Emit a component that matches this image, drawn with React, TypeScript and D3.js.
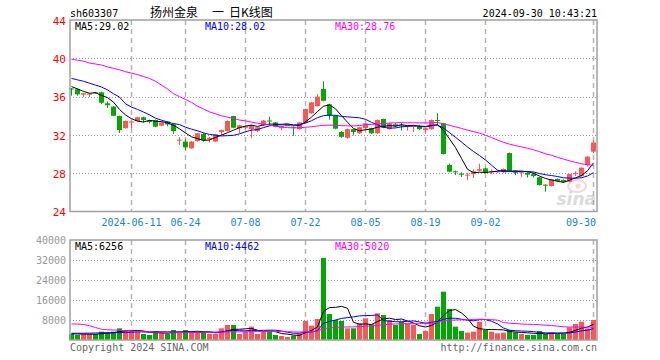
import React from 'react';
import * as d3 from 'd3';

const dates = [
  '2024-05-27','2024-05-28','2024-05-29','2024-05-30','2024-05-31','2024-06-03','2024-06-04','2024-06-05','2024-06-06','2024-06-07',
  '2024-06-11','2024-06-12','2024-06-13','2024-06-14','2024-06-17','2024-06-18','2024-06-19','2024-06-20','2024-06-21','2024-06-24',
  '2024-06-25','2024-06-26','2024-06-27','2024-06-28','2024-07-01','2024-07-02','2024-07-03','2024-07-04','2024-07-05','2024-07-08',
  '2024-07-09','2024-07-10','2024-07-11','2024-07-12','2024-07-15','2024-07-16','2024-07-17','2024-07-18','2024-07-19','2024-07-22',
  '2024-07-23','2024-07-24','2024-07-25','2024-07-26','2024-07-29','2024-07-30','2024-07-31','2024-08-01','2024-08-02','2024-08-05',
  '2024-08-06','2024-08-07','2024-08-08','2024-08-09','2024-08-12','2024-08-13','2024-08-14','2024-08-15','2024-08-16','2024-08-19',
  '2024-08-20','2024-08-21','2024-08-22','2024-08-23','2024-08-26','2024-08-27','2024-08-28','2024-08-29','2024-08-30','2024-09-02',
  '2024-09-03','2024-09-04','2024-09-05','2024-09-06','2024-09-09','2024-09-10','2024-09-11','2024-09-12','2024-09-13','2024-09-18',
  '2024-09-19','2024-09-20','2024-09-23','2024-09-24','2024-09-25','2024-09-26','2024-09-27','2024-09-30'
];

const opens = [
  36.85, 36.76, 36.2, 36.2, 36.45, 36.45, 35.3, 34.95, 33.97, 32.7,
  33.35, 33.45, 33.84, 33.45, 33.56, 32.96, 33.4, 33.1, 31.45, 31.3,
  30.6, 31.36, 32.1, 31.55, 31.3, 32.3, 32.4, 33.97, 32.7, 32.75,
  32.6, 32.4, 33.0, 33.5, 33.3, 32.7, 32.95, 32.85, 32.6, 33.3,
  34.26, 35.0, 36.8, 35.2, 34.0, 32.3, 31.7, 32.6, 32.17, 32.7,
  32.7, 32.17, 33.66, 32.6, 33.1, 33.0, 32.95, 32.9, 32.9, 32.5,
  32.6, 33.55, 33.2, 28.86, 28.2, 27.95, 27.8, 27.9, 28.26, 28.5,
  28.15, 28.1, 28.1, 30.1, 28.25, 28.1, 28.05, 27.9, 27.57, 26.8,
  26.66, 27.4, 27.3, 27.1, 27.95, 27.7, 28.86, 30.25
];

const highs = [
  36.9, 36.85, 36.4, 36.35, 36.5, 36.5, 35.5, 35.0, 34.0, 33.5,
  33.45, 33.9, 33.9, 33.55, 33.6, 33.35, 33.45, 33.15, 31.75, 31.6,
  31.35, 32.2, 32.2, 31.8, 32.1, 32.55, 33.5, 34.0, 33.05, 33.0,
  33.05, 32.85, 33.55, 33.9, 33.35, 32.95, 33.15, 32.9, 33.35, 34.75,
  35.45, 36.25, 37.6, 35.25, 34.05, 32.4, 32.65, 32.65, 32.85, 33.25,
  32.75, 33.6, 33.7, 33.25, 33.25, 33.25, 33.0, 33.0, 33.05, 32.75,
  33.6, 34.26, 33.25, 29.0, 28.25, 28.1, 28.05, 28.4, 29.0, 28.55,
  28.4, 28.25, 28.5, 30.15, 28.3, 28.2, 28.1, 28.05, 27.6, 26.85,
  27.4, 27.45, 27.35, 27.95, 28.2, 28.6, 29.75, 31.47
];

const lows = [
  36.1, 36.1, 35.95, 35.95, 36.3, 35.2, 34.8, 33.95, 32.2, 32.65,
  32.7, 33.4, 33.3, 33.2, 32.8, 32.9, 32.9, 32.1, 30.95, 30.4,
  30.55, 31.3, 31.3, 31.2, 31.25, 32.0, 32.35, 32.7, 32.2, 32.6,
  31.65, 32.3, 32.95, 33.0, 32.8, 32.5, 32.9, 31.9, 32.55, 33.25,
  34.2, 34.95, 35.5, 33.6, 32.6, 31.7, 31.6, 31.95, 32.1, 32.55,
  32.1, 32.1, 32.7, 32.55, 32.8, 32.45, 32.45, 32.3, 32.5, 32.1,
  32.55, 33.0, 29.95, 28.1, 27.8, 27.6, 27.3, 27.5, 28.2, 28.0,
  27.9, 28.05, 28.05, 28.2, 27.8, 27.6, 27.55, 27.55, 26.7, 26.07,
  26.6, 27.1, 27.0, 27.05, 27.7, 27.65, 28.7, 30.1
];

const closes = [
  36.8, 36.24, 36.35, 36.3, 36.35, 35.36, 35.1, 34.0, 32.5, 33.45,
  33.4, 33.84, 33.56, 33.4, 32.86, 33.3, 33.1, 32.4, 31.5, 30.7,
  31.3, 32.17, 31.45, 31.7, 32.06, 32.5, 33.45, 32.75, 33.0, 32.9,
  33.0, 32.8, 33.5, 33.45, 32.86, 32.9, 33.1, 32.8, 33.3, 34.7,
  35.4, 36.0, 35.57, 34.0, 32.65, 31.8, 32.6, 32.3, 32.8, 33.2,
  32.17, 33.56, 32.75, 33.2, 32.9, 32.95, 33.0, 32.95, 32.6, 32.7,
  33.56, 33.5, 30.0, 28.16, 28.15, 27.9, 27.85, 28.2, 28.42, 28.05,
  28.2, 28.2, 28.44, 28.26, 28.05, 28.15, 27.85, 27.7, 26.77, 26.77,
  27.36, 27.2, 27.1, 27.9, 28.0, 28.58, 29.73, 31.2
];

const volumes = [
  2400, 2000, 2400, 2400, 2400, 3333, 3067, 3333, 4667, 4000,
  3600, 3333, 2400, 2000, 3600, 3067, 2400, 4000, 3067, 4000,
  3333, 3067, 3067, 2400, 2400, 4667, 6000, 6000, 2400, 3333,
  5333, 2400, 3600, 3333, 2000, 1600, 1200, 1733, 2667, 7600,
  5733, 8400, 32800, 10400, 8000, 7600, 4667, 4667, 6667, 8667,
  6267, 10667, 10000, 8000, 6000, 7333, 6667, 6000, 2400, 3600,
  10400, 13333, 19333, 12400, 5333, 3600, 2933, 3333, 7333, 4000,
  3333, 2667, 2933, 4000, 3067, 2400, 2000, 2000, 3600, 2400,
  3067, 2400, 2400, 5067, 6400, 7333, 4667, 8000
];

const priceMa5Head = [37.05, 36.8, 36.55, 36.35];
const priceMa10Head = [37.9, 37.75, 37.6, 37.4, 37.2, 37.0, 36.7, 36.3, 35.95];
const priceMa30Head = [
  39.9, 39.8, 39.7, 39.5, 39.4, 39.3, 39.1, 38.95, 38.8, 38.6,
  38.45, 38.3, 38.1, 37.9, 37.6, 37.2, 36.8, 36.3, 36.0, 35.7,
  35.4, 35.0, 34.7, 34.4, 34.2, 34.0, 33.85, 33.7, 33.55
];
const volMa5Head = [2500, 2400, 2400, 2350];
const volMa10Head = [2700, 2700, 2700, 2750, 2800, 2850, 2900, 2900, 2950];
const volMa30Head = [
  6400, 6400, 6200, 5700, 5000, 4300, 4100, 4000, 3900, 3700,
  3600, 3400, 3300, 3200, 3150, 3100, 3100, 3100, 3100, 3100,
  3100, 3100, 3100, 3100, 3150, 3150, 3200, 3250, 3250
];

const priceTicks = [44, 40, 36, 32, 28, 24];
const volTicks = [40000, 32000, 24000, 16000, 8000];
const tickDates = ['2024-06-11', '2024-06-24', '2024-07-08', '2024-07-22', '2024-08-05', '2024-08-19', '2024-09-02', '2024-09-30'];
const tickLabels = ['2024-06-11', '06-24', '07-08', '07-22', '08-05', '08-19', '09-02', '09-30'];

const code = 'sh603307';
const title = ['扬州金泉', '一', '日K线图'];
const stamp = '2024-09-30 10:43:21';
const priceMaLabels = ['MA5:29.02', 'MA10:28.02', 'MA30:28.76'];
const volMaLabels = ['MA5:6256', 'MA10:4462', 'MA30:5020'];

const UP = '#ff5555';
const DOWN = '#00a800';
const MA_COLORS = ['#000000', '#0000ff', '#ff00ff'];
const MONO = "'DejaVu Sans Mono', monospace";

function movingAvg(values: number[], n: number, head: number[]): number[] {
  return values.map((_, i) =>
    i < n - 1 ? head[i] : (d3.mean(values.slice(i - n + 1, i + 1)) as number)
  );
}

export default function App() {
  const L = 70, R = 597;
  const PT = 20, PB = 211.5;
  const VT = 240, VB = 340;

  const x = d3.scaleBand<string>().domain(dates).range([68, 596]);
  const cx = (d: string) => (x(d) as number) + 3.5;
  const y = d3.scaleLinear().domain([24, 44]).range([PB, PT]);
  const yv = d3.scaleLinear().domain([0, 40000]).range([VB, VT]);

  const pMa = [
    movingAvg(closes, 5, priceMa5Head),
    movingAvg(closes, 10, priceMa10Head),
    movingAvg(closes, 30, priceMa30Head),
  ];
  const vMa = [
    movingAvg(volumes, 5, volMa5Head),
    movingAvg(volumes, 10, volMa10Head),
    movingAvg(volumes, 30, volMa30Head),
  ];

  const pLine = d3.line<number>().x((_, i) => cx(dates[i])).y((v) => y(v));
  const vLine = d3.line<number>().x((_, i) => cx(dates[i])).y((v) => yv(v));

  const gridV = (top: number, bottom: number) =>
    tickDates.map((d) => (
      <line key={d} x1={cx(d)} x2={cx(d)} y1={top} y2={bottom}
        stroke="#b4b4b4" strokeWidth={1.5} strokeDasharray="5,4" />
    ));

  return (
    <svg width={660} height={360} style={{ position: 'absolute', left: 0, top: 0, background: '#fff' }}
      fontFamily={MONO} fontSize={10}>
      <rect x={0} y={0} width={660} height={360} fill="#fff" />

      {/* header */}
      <text x={70} y={13} dy="0.35em" fill="#000">{code}</text>
      <text y={13} dy="0.35em" fontFamily="'Noto Sans CJK SC', sans-serif" fontSize={12} fill="#000">
        <tspan x={150}>{title[0]}</tspan>
        <tspan x={212}>{title[1]}</tspan>
        <tspan x={229}>{title[2]}</tspan>
      </text>
      <text x={597} y={13} dy="0.35em" textAnchor="end" fill="#000">{stamp}</text>

      {/* price panel grid */}
      {priceTicks.filter((t) => t !== 44 && t !== 24).map((t) => (
        <line key={t} x1={L} x2={R} y1={Math.round(y(t)) + 0.5} y2={Math.round(y(t)) + 0.5}
          stroke="#999" strokeDasharray="1,2" />
      ))}
      {gridV(PT, PB)}
      {priceTicks.map((t) => (
        <text key={t} x={66} y={y(t) + 1} dy="0.35em" textAnchor="end" fill="#ff0000" fontSize={11}>{t}</text>
      ))}

      {/* sina watermark */}
      <g opacity={0.35}>
        <ellipse cx={577} cy={186} rx={9} ry={6} fill="none" stroke="#e88" strokeWidth={2} />
        <circle cx={578} cy={186} r={2.5} fill="#e88" />
        <text x={596} y={205} textAnchor="end" fontFamily="'DejaVu Sans', sans-serif"
          fontStyle="italic" fontWeight="bold" fontSize={17} fill="#999">sina</text>
      </g>

      {/* candles */}
      {dates.map((d, i) => {
        const o = opens[i], c = closes[i];
        const up = c >= o;
        const col = up ? UP : DOWN;
        const top = y(Math.max(o, c));
        const bot = y(Math.min(o, c));
        return (
          <g key={d}>
            <line x1={cx(d)} x2={cx(d)} y1={y(highs[i])} y2={y(lows[i])} stroke={col} strokeWidth={1} />
            <rect x={(x(d) as number) + 1} y={top} width={5} height={Math.max(1, bot - top)} fill={col} />
          </g>
        );
      })}

      {/* price MAs */}
      {pMa.map((arr, k) => (
        <path key={k} d={pLine(arr) as string} fill="none" stroke={MA_COLORS[k]} strokeWidth={1} />
      ))}

      {priceMaLabels.map((t, k) => (
        <text key={t} x={75 + 130 * k} y={26} dy="0.35em" fill={MA_COLORS[k]}>{t}</text>
      ))}

      <rect x={L} y={PT} width={R - L} height={PB - PT} fill="none" stroke="#a0a0a0" strokeWidth={1.5} />

      {/* date labels */}
      {tickDates.map((d, k) => {
        const px = cx(d);
        const w = tickLabels[k].length * 6;
        const atEnd = px + w / 2 > R;
        return (
          <text key={d} x={atEnd ? R - 1 : px} y={222} dy="0.35em" textAnchor={atEnd ? 'end' : 'middle'}
            fill="#1a84d6">{tickLabels[k]}</text>
        );
      })}

      {/* volume panel */}
      {volTicks.filter((t) => t !== 40000).map((t) => (
        <line key={t} x1={L} x2={R} y1={Math.round(yv(t)) + 0.5} y2={Math.round(yv(t)) + 0.5}
          stroke="#999" strokeDasharray="1,2" />
      ))}
      {gridV(VT, VB)}
      {volTicks.map((t) => (
        <text key={t} x={66} y={yv(t)} dy="0.35em" textAnchor="end" fill="#999">{t}</text>
      ))}

      {dates.map((d, i) => {
        const up = closes[i] >= opens[i];
        return (
          <rect key={d} x={(x(d) as number) + 1} y={yv(volumes[i])} width={5}
            height={VB - yv(volumes[i])} fill={up ? UP : DOWN} />
        );
      })}

      {vMa.map((arr, k) => (
        <path key={k} d={vLine(arr) as string} fill="none" stroke={MA_COLORS[k]} strokeWidth={1} />
      ))}

      {volMaLabels.map((t, k) => (
        <text key={t} x={75 + 130 * k} y={246.5} dy="0.35em" fill={MA_COLORS[k]}>{t}</text>
      ))}

      <rect x={L} y={VT} width={R - L} height={VB - VT} fill="none" stroke="#a0a0a0" strokeWidth={1.5} />

      <text x={70} y={347} dy="0.35em" fill="#666">Copyright 2024 SINA.COM</text>
      <text x={597} y={347} dy="0.35em" textAnchor="end" fill="#666">http://finance.sina.com.cn</text>
    </svg>
  );
}
